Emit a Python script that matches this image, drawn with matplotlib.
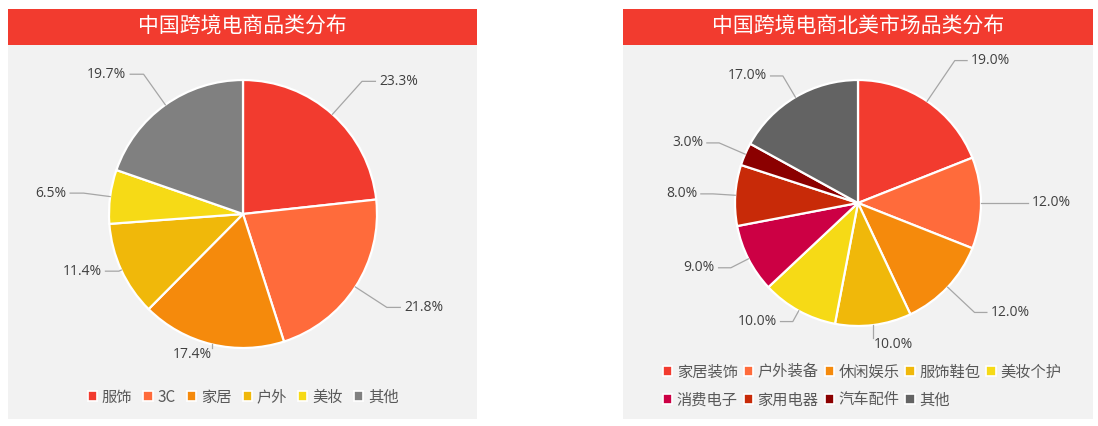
import numpy as np
import matplotlib
matplotlib.use("Agg")
import matplotlib.pyplot as plt
from matplotlib.patches import Rectangle, Patch

plt.rcParams['font.family'] = ['Noto Sans CJK SC', 'DejaVu Sans']

# left chart data
left_title = "中国跨境电商品类分布"
left_cats = ["服饰", "3C", "家居", "户外", "美妆", "其他"]
left_vals = [23.3, 21.8, 17.4, 11.4, 6.5, 19.7]
left_colors = ["#F23B2F", "#FF6B3B", "#F58A0C", "#F0B80A", "#F6DA16", "#808080"]

# right chart data
right_title = "中国跨境电商北美市场品类分布"
right_cats = ["家居装饰", "户外装备", "休闲娱乐", "服饰鞋包", "美妆个护",
              "消费电子", "家用电器", "汽车配件", "其他"]
right_vals = [19.0, 12.0, 12.0, 10.0, 10.0, 9.0, 8.0, 3.0, 17.0]
right_colors = ["#F23B2F", "#FF6B3B", "#F58A0C", "#F0B80A", "#F6DA16",
                "#CC0044", "#C82A08", "#8B0000", "#636363"]

# label distance (in radii) per wedge, like excel's placement
left_lab_r = [1.45, 1.40, 1.03, 1.14, 1.32, 1.40]
right_lab_r = [1.52, 1.40, 1.42, 1.11, 1.22, 1.28, 1.30, 1.35, 1.32]

W, H = 1098, 426
fig = plt.figure(figsize=(W / 100, H / 100), dpi=100)
fig.patch.set_facecolor("white")

BG = "#F2F2F2"
RED = "#F23B2F"
NUMFONT = ['Open Sans', 'DejaVu Sans']


def px_rect(x0, y0, x1, y1, color):
    fig.add_artist(Rectangle((x0 / W, 1 - y1 / H), (x1 - x0) / W, (y1 - y0) / H,
                             transform=fig.transFigure, facecolor=color,
                             edgecolor="none", zorder=0))


def panel(x0, x1, title):
    px_rect(x0, 45, x1, 419, BG)
    px_rect(x0, 9, x1, 45, RED)
    fig.text((x0 + x1) / 2 / W, 1 - 27 / H, title, color="white", fontsize=15,
             ha="center", va="center")


def draw_pie(cx, cy, R, vals, colors, lab_r):
    span = 1.6
    ax = fig.add_axes([(cx - span * R) / W, 1 - (cy + span * R) / H,
                       2 * span * R / W, 2 * span * R / H])
    wedges, _ = ax.pie(vals, colors=colors, startangle=90, counterclock=False,
                       radius=1.0, center=(0, 0), frame=True,
                       wedgeprops=dict(edgecolor="white", linewidth=1.6))
    ax.set_xlim(-span, span)
    ax.set_ylim(-span, span)
    ax.axis("off")
    for w, v, r in zip(wedges, vals, lab_r):
        th = np.deg2rad((w.theta1 + w.theta2) / 2)
        c, s = np.cos(th), np.sin(th)
        side = 1 if c >= 0 else -1
        p0 = np.array([c, s])
        if abs(c) < 0.3:
            # near the bottom: short vertical leader, text hangs below
            p1 = np.array([c, s * r])
            ax.plot([p0[0], p1[0]], [p0[1], p1[1]], color="#A6A6A6", lw=0.9,
                    clip_on=False, zorder=1)
            ax.text(p1[0] + side * 0.0, p1[1] - 0.05, f"{v:.1f}%", fontsize=10,
                    family=NUMFONT, color="#404040",
                    ha="left" if side > 0 else "right", va="center")
            continue
        p1 = p0 * (r - 0.12)
        p2 = p1 + np.array([side * 0.1, 0])
        ax.plot([p0[0], p1[0], p2[0]], [p0[1], p1[1], p2[1]], color="#A6A6A6",
                lw=0.9, clip_on=False, zorder=1)
        ax.text(p2[0] + side * 0.03, p2[1], f"{v:.1f}%", fontsize=10,
                family=NUMFONT, color="#404040",
                ha="left" if side > 0 else "right", va="center")
    return ax


panel(8, 477, left_title)
panel(623, 1093, right_title)

draw_pie(243, 214, 134, left_vals, left_colors, left_lab_r)
draw_pie(858, 203, 123, right_vals, right_colors, right_lab_r)

# legends
lh = [Patch(facecolor=c, edgecolor="white", linewidth=1.2) for c in left_colors]
fig.legend(lh, left_cats, loc="center", bbox_to_anchor=(243 / W, 1 - 397 / H),
           ncol=6, frameon=False, fontsize=11, handlelength=0.6,
           handleheight=0.6, handletextpad=0.3, columnspacing=0.75,
           labelcolor="#595959")

# matplotlib fills columns first, so reorder to read row by row
order = [0, 5, 1, 6, 2, 7, 3, 8, 4]
rh = [Patch(facecolor=right_colors[i], edgecolor="white", linewidth=1.2) for i in order]
fig.legend(rh, [right_cats[i] for i in order], loc="center",
           bbox_to_anchor=(862 / W, 1 - 386 / H), ncol=5, frameon=False,
           fontsize=11, handlelength=0.6, handleheight=0.6,
           handletextpad=0.3, columnspacing=0.4, labelspacing=0.7,
           labelcolor="#595959")

fig.savefig("out.png", dpi=100, facecolor="white")
